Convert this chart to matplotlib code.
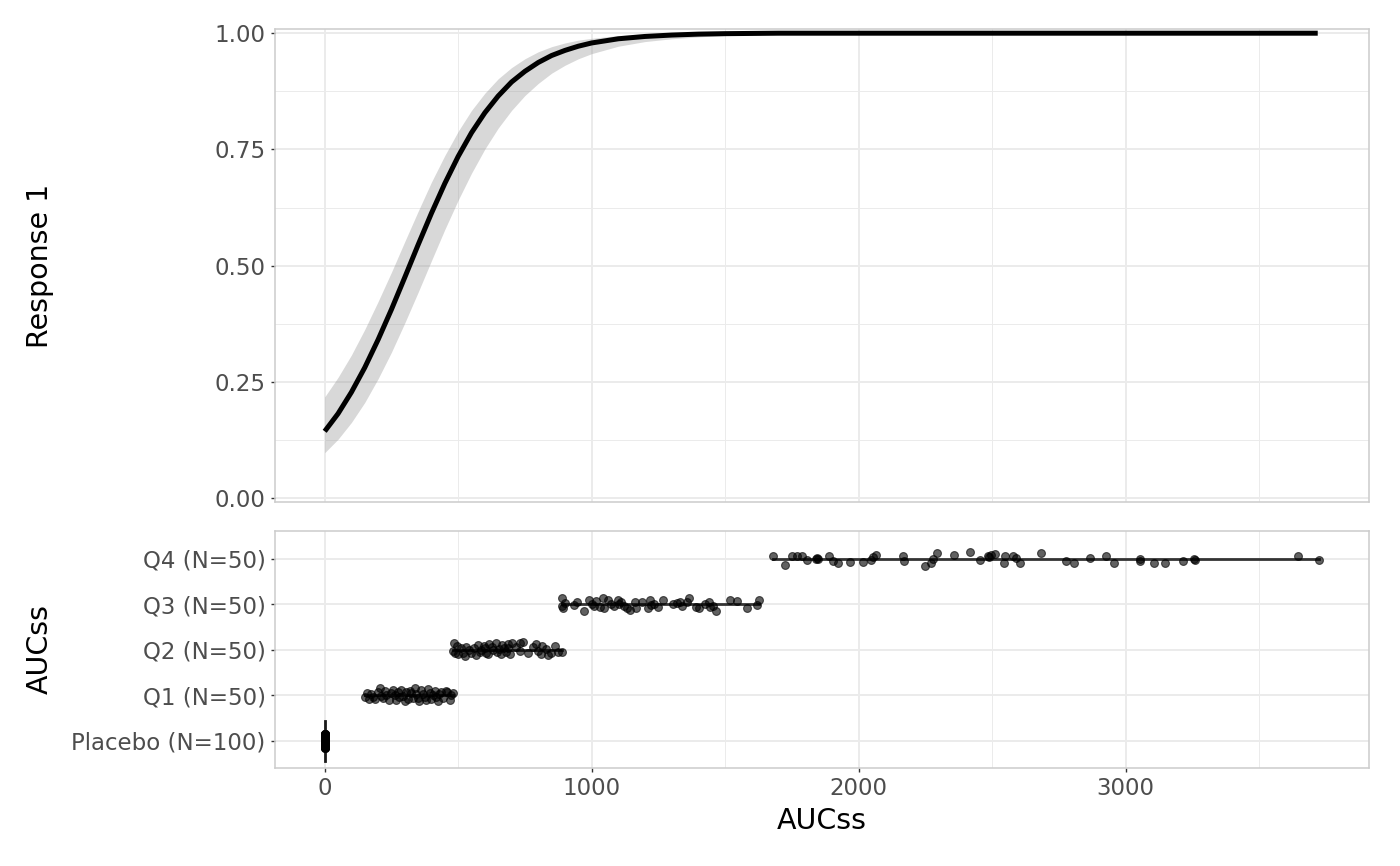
import matplotlib
matplotlib.use("Agg")
import matplotlib.pyplot as plt
from matplotlib.ticker import MultipleLocator

# ---- fitted curve ----
curve_x = [0, 50, 100, 150, 200, 250, 300, 350, 400, 450, 500, 550, 600, 650,
           700, 750, 800, 850, 900, 950, 1000, 1100, 1200, 1300, 1400, 1500,
           1700, 3720]
curve_fit = [0.144, 0.182, 0.228, 0.281, 0.341, 0.406, 0.475, 0.545, 0.613,
             0.677, 0.735, 0.786, 0.829, 0.865, 0.895, 0.918, 0.937, 0.952,
             0.963, 0.972, 0.979, 0.988, 0.993, 0.996, 0.998, 0.999, 1.0, 1.0]
curve_lo = [0.098, 0.127, 0.163, 0.206, 0.257, 0.314, 0.377, 0.443, 0.511,
            0.578, 0.641, 0.699, 0.751, 0.796, 0.834, 0.866, 0.892, 0.914,
            0.931, 0.945, 0.956, 0.972, 0.982, 0.988, 0.992, 0.995, 0.998, 1.0]
curve_hi = [0.218, 0.260, 0.308, 0.363, 0.423, 0.486, 0.552, 0.617, 0.680,
            0.737, 0.789, 0.834, 0.871, 0.902, 0.926, 0.945, 0.960, 0.971,
            0.979, 0.985, 0.989, 0.995, 0.997, 0.999, 0.999, 1.0, 1.0, 1.0]

# ---- exposure groups (bottom panel) ----
group_labels = ["Placebo (N=100)", "Q1 (N=50)", "Q2 (N=50)", "Q3 (N=50)", "Q4 (N=50)"]

placebo_auc = [0] * 100
placebo_jit = [
    -0.14, 0.02, 0.11, -0.07, 0.05, -0.12, 0.13, -0.01, 0.08, -0.09,
    0.14, -0.04, 0.06, -0.13, 0.00, 0.10, -0.06, 0.03, -0.10, 0.12,
    -0.02, 0.07, -0.15, 0.09, -0.05, 0.01, 0.15, -0.08, 0.04, -0.11,
    0.13, -0.03, 0.08, -0.14, 0.05, -0.07, 0.11, -0.01, 0.02, -0.12,
    0.06, -0.09, 0.14, -0.04, 0.00, 0.10, -0.13, 0.03, -0.06, 0.12,
    -0.10, 0.07, -0.02, 0.09, -0.15, 0.04, 0.15, -0.08, 0.01, -0.05,
    0.11, -0.11, 0.05, -0.03, 0.13, -0.14, 0.08, -0.07, 0.02, 0.10,
    -0.12, 0.06, -0.01, 0.14, -0.09, 0.03, -0.06, 0.12, -0.04, 0.00,
    0.09, -0.13, 0.07, -0.10, 0.04, -0.02, 0.15, -0.08, 0.01, -0.15,
    0.11, -0.05, 0.06, -0.11, 0.13, -0.03, 0.08, -0.14, 0.05, -0.07,
]

q1_auc = [150, 166, 181, 206, 218, 231, 256, 268, 287, 299, 324, 337, 349,
          362, 380, 387, 405, 424, 436, 455, 468, 474, 479,
          160, 175, 190, 198, 212, 225, 240, 248, 262, 275, 280, 293, 305,
          312, 318, 330, 343, 355, 368, 374, 393, 398, 412, 418, 430, 445, 460]
q1_jit = [-0.04, -0.09, -0.04, 0.15, -0.07, 0.00, 0.11, -0.11, 0.11, -0.12,
          0.04, 0.15, -0.07, 0.11, -0.11, 0.13, 0.00, -0.12, 0.07, 0.09,
          -0.11, 0.00, 0.04,
          0.05, 0.02, -0.08, 0.06, -0.02, 0.09, -0.10, 0.04, 0.01, 0.07,
          -0.05, -0.02, 0.06, -0.08, 0.10, -0.06, 0.03, -0.12, 0.02, -0.04,
          0.05, -0.09, 0.10, -0.03, 0.03, -0.06, 0.06]

q2_auc = [480, 483, 490, 511, 517, 524, 542, 561, 568, 586, 595, 605, 617,
          630, 640, 652, 661, 673, 686, 686, 701, 730, 733, 742, 792, 798,
          811, 829, 836, 861, 873, 890,
          495, 500, 530, 548, 575, 580, 600, 612, 625, 645, 665, 680, 695,
          715, 760, 780, 815, 848]
q2_jit = [-0.02, 0.15, -0.07, 0.03, -0.07, -0.13, 0.00, 0.03, -0.12, 0.00,
          0.09, -0.07, 0.13, 0.00, 0.15, 0.02, -0.09, 0.03, 0.13, 0.03,
          0.15, 0.15, -0.02, 0.17, 0.13, -0.02, -0.09, 0.02, -0.12, 0.09,
          -0.04, -0.04,
          0.08, -0.10, 0.05, -0.08, 0.10, -0.05, 0.04, -0.10, 0.07, -0.06,
          0.10, -0.04, -0.10, 0.05, -0.08, 0.06, 0.08, -0.07]

q3_auc = [889, 889, 894, 935, 973, 991, 1001, 1010, 1041, 1048, 1060, 1073,
          1097, 1104, 1122, 1131, 1163, 1168, 1210, 1218, 1222, 1235, 1269,
          1303, 1319, 1340, 1359, 1365, 1403, 1424, 1444, 1456, 1465, 1519,
          1546, 1581, 1619, 1627,
          900, 945, 1015, 1030, 1085, 1110, 1145, 1190, 1250, 1330, 1390, 1440]
q3_jit = [0.13, -0.04, -0.09, -0.02, -0.15, 0.10, 0.00, -0.04, 0.13, -0.09,
          0.09, 0.00, 0.10, 0.00, -0.04, -0.09, 0.05, -0.09, -0.09, 0.10,
          -0.02, 0.00, 0.10, 0.00, 0.02, -0.04, 0.05, 0.13, -0.09, 0.00,
          -0.07, -0.04, -0.15, 0.10, 0.07, -0.09, -0.02, 0.10,
          0.02, 0.06, 0.08, -0.06, -0.03, 0.06, -0.12, 0.04, -0.05, 0.06,
          -0.06, 0.05]

q4_auc = [1680, 1725, 1752, 1768, 1789, 1808, 1841, 1848, 1889, 1904, 1923,
          1967, 2016, 2045, 2054, 2066, 2166, 2170, 2247, 2270, 2278, 2294,
          2357, 2416, 2454, 2485, 2497, 2510, 2544, 2550, 2578, 2588, 2606,
          2684, 2777, 2808, 2868, 2927, 2955, 3055, 3055, 3108, 3146, 3215,
          3257, 3259, 3645, 3726, 1845, 2490]
q4_jit = [0.05, -0.13, 0.05, 0.07, 0.05, -0.02, 0.00, 0.00, 0.05, -0.06,
          -0.10, -0.07, -0.07, -0.02, 0.04, 0.09, 0.07, -0.06, -0.15, -0.10,
          0.00, 0.12, 0.09, 0.14, -0.02, 0.05, 0.09, 0.11, -0.10, 0.05,
          0.07, 0.02, -0.10, 0.13, -0.06, -0.10, 0.02, 0.07, -0.10, 0.00,
          -0.05, -0.10, -0.10, -0.04, 0.00, -0.02, 0.07, -0.02, 0.01, 0.03]

groups_auc = [placebo_auc, q1_auc, q2_auc, q3_auc, q4_auc]
groups_jit = [placebo_jit, q1_jit, q2_jit, q3_jit, q4_jit]

# ---- style ----
GRID = "#EBEBEB"
BORDER = "#CCCCCC"
TICKTXT = "#4D4D4D"
plt.rcParams.update({
    "font.family": "DejaVu Sans",
    "xtick.color": "#333333",
    "ytick.color": "#333333",
    "xtick.labelcolor": TICKTXT,
    "ytick.labelcolor": TICKTXT,
    "xtick.labelsize": 16.5,
    "ytick.labelsize": 16.5,
    "xtick.major.size": 3.2,
    "ytick.major.size": 3.2,
    "xtick.major.width": 1.0,
    "ytick.major.width": 1.0,
    "xtick.major.pad": 3.5,
    "ytick.major.pad": 3.5,
})


def style_panel(ax):
    ax.set_facecolor("white")
    for sp in ax.spines.values():
        sp.set_color(BORDER)
        sp.set_linewidth(1.1)
    ax.set_axisbelow(True)
    ax.grid(which="major", color=GRID, linewidth=1.4)
    ax.grid(which="minor", color=GRID, linewidth=0.7)
    ax.tick_params(which="minor", length=0)


fig = plt.figure(figsize=(14, 8.66), dpi=100)
ax_top = fig.add_axes([0.1964, 0.4203, 0.7815, 0.5462])
ax_bot = fig.add_axes([0.1964, 0.1132, 0.7815, 0.2731], sharex=ax_top)

all_auc = [v for g in groups_auc for v in g]
lo, hi = min(all_auc), max(all_auc)
pad = 0.05 * (hi - lo)

# top panel: exposure-response curve with confidence band
style_panel(ax_top)
ax_top.fill_between(curve_x, curve_lo, curve_hi, color="#999999", alpha=0.38,
                    linewidth=0, zorder=2)
ax_top.plot(curve_x, curve_fit, color="black", linewidth=3.6,
            solid_capstyle="butt", solid_joinstyle="round", zorder=3)
ax_top.set_ylim(-0.008, 1.009)
ax_top.yaxis.set_minor_locator(MultipleLocator(0.125))
ax_top.set_yticks([0, 0.25, 0.5, 0.75, 1.0])
ax_top.set_yticklabels(["0.00", "0.25", "0.50", "0.75", "1.00"])
ax_top.tick_params(axis="x", which="both", length=0, labelbottom=False)

# bottom panel: jittered exposures by group, range line per group
style_panel(ax_bot)
for i, (auc, jit) in enumerate(zip(groups_auc, groups_jit)):
    if i == 0:
        ax_bot.plot([0, 0], [i - 0.44, i + 0.44], color="#1A1A1A",
                    linewidth=2.0, zorder=2)
    else:
        ax_bot.plot([min(auc), max(auc)], [i, i], color="#333333",
                    linewidth=2.0, zorder=2)
    ax_bot.scatter(auc, [i + j for j in jit], s=32, color="black",
                   alpha=0.62, linewidths=0.8, zorder=3)
ax_bot.set_ylim(-0.6, len(group_labels) - 0.4)
ax_bot.set_yticks(range(len(group_labels)))
ax_bot.set_yticklabels(group_labels)
ax_bot.grid(axis="y", which="minor", visible=False)
ax_bot.set_xlim(lo - pad, hi + pad)
ax_bot.xaxis.set_minor_locator(MultipleLocator(500))
ax_bot.set_xticks([0, 1000, 2000, 3000])

# axis titles
fig.text(40 / 1400, 1 - 265.5 / 866, "Response 1", rotation=90,
         ha="center", va="center", fontsize=20.5)
fig.text(40 / 1400, 1 - 649.5 / 866, "AUCss", rotation=90,
         ha="center", va="center", fontsize=20.5)
fig.text(822 / 1400, 1 - 821 / 866, "AUCss", ha="center", va="center",
         fontsize=20.5)

fig.savefig("out.png", dpi=100, facecolor="white")
